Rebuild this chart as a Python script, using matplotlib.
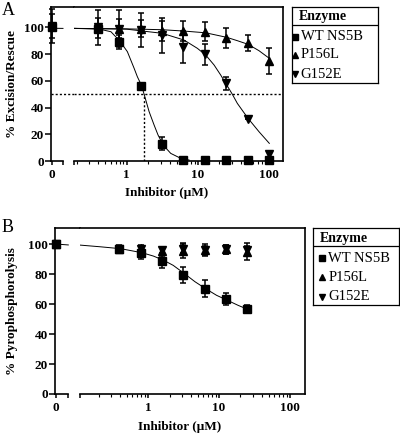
import matplotlib
matplotlib.use("Agg")
import matplotlib.pyplot as plt
from matplotlib.ticker import FixedLocator, NullFormatter, LogLocator

plt.rcParams['font.family'] = ['Liberation Serif', 'DejaVu Serif']

# ---------------- Panel A: % excision/rescue ----------------
conc_a = [0.39, 0.78, 1.5625, 3.125, 6.25, 12.5, 25, 50, 100]
wt_a0, wt_a0_err = 100, 1
wt_a = [98.7, 89, 56.3, 13, 0.7, 0.7, 0.7, 0.7, 0.7]
wt_a_err = [1.5, 5, 1, 5, 0, 0, 0, 0, 0]
p156l_a0, p156l_a0_err = 101, 9
p156l_a = [99.5, 99, 99, 97, 97, 96.7, 92.3, 88, 75]
p156l_a_err = [7.5, 7, 6.5, 7.5, 7.5, 7, 7.5, 6, 9.6]
g152e_a0, g152e_a0_err = 101, 13
g152e_a = [100, 99, 98, 94, 85, 79.8, 58, 31.4, 5]
g152e_a_err = [13, 14, 12.5, 13, 12, 8, 5, 0, 2.5]

# fitted curves
wt_fit_a_x = [0.182, 0.41, 0.6, 0.8, 1.02, 1.27, 1.41, 1.62, 1.75, 1.91, 2.06, 2.42, 2.75, 3.16, 3.64, 4.14, 5.72, 7.5]
wt_fit_a_y = [99.2, 98.7, 96.7, 89.7, 81.8, 69.3, 63, 56.3, 50, 43, 36.9, 26.9, 19.4, 13.2, 9, 5.7, 2.0, 0.7]
p156l_fit_a_x = [0.182, 0.92, 3.16, 6.35, 12.8, 25.3, 35.6, 50.3, 71.7, 100]
p156l_fit_a_y = [99.2, 98.9, 98.2, 97.2, 95.9, 92.5, 90, 87.3, 82.5, 76.8]
g152e_fit_a_x = [0.182, 1.0, 3.16, 6.35, 9.78, 12.8, 16.8, 20.8, 25.3, 30.3, 35.6, 50.3, 71.7, 100]
g152e_fit_a_y = [99.2, 98.6, 95.5, 90.5, 84.3, 79.3, 71.8, 64.3, 56.8, 49.9, 43.1, 31.9, 21.9, 13.2]
zero_fit_a = [99.3, 99.2]
half_a = 50
ic50_wt_a = 1.74

# ---------------- Panel B: % pyrophosphorolysis ----------------
conc_b = [0.39, 0.78, 1.5625, 3.125, 6.25, 12.5, 25]
wt_b0 = 100
wt_b = [96.4, 94, 88.7, 79.1, 70.2, 63.1, 56.4]
wt_b_err = [2.7, 4, 4.5, 5.3, 5.7, 4, 2.7]
p156l_b0 = 100
p156l_b = [96.5, 97.6, 95.3, 95.5, 96, 96.4, 95]
p156l_b_err = [2, 2, 3, 5, 4, 3, 5.5]
g152e_b0 = 100
g152e_b = [96.5, 97, 96, 97, 96, 96.4, 96]
g152e_b_err = [2, 2, 2, 3, 3, 3, 3]

wt_fit_b_x = [0.109, 0.208, 0.41, 0.82, 1.18, 1.63, 2.25, 3.22, 4.56, 6.38, 9.22, 12.8, 18.6, 25.5]
wt_fit_b_y = [99.3, 98.2, 96.9, 94.2, 92, 89.3, 85.8, 80.4, 74.9, 70.4, 65.8, 62.7, 59.1, 56.4]
zero_fit_b = [100, 99.4]

legend_title = "Enzyme"
legend_labels = ["WT NS5B", "P156L", "G152E"]
markers = ['s', '^', 'v']

W, H = 400, 437
fig = plt.figure(figsize=(W / 100, H / 100), dpi=100)


def rect(l, r, t, b):
    return [l / W, 1 - b / H, (r - l) / W, (b - t) / H]


def panel(l, rz, r, t, b, seg_end, ytop, xlog):
    # zero segment + log segment of the broken x axis
    ax0 = fig.add_axes(rect(l, rz, t, b))
    ax1 = fig.add_axes(rect(rz, r, t, b))
    for ax in (ax0, ax1):
        ax.set_ylim(0, ytop)
        for s in ax.spines.values():
            s.set_linewidth(1.2)
    ax0.set_xlim(-1, rz - l - 1)
    ax0.spines['right'].set_visible(False)
    ax0.spines['bottom'].set_bounds(-1, seg_end)
    ax0.set_xticks([0, seg_end])
    ax0.set_xticklabels(['0', ''])
    ax0.set_yticks([0, 20, 40, 60, 80, 100])
    ax0.tick_params(axis='y', length=4.3, width=1.1, pad=1, labelsize=9.5)
    ax0.tick_params(axis='x', length=3, width=1.1, pad=3, labelsize=9.5)
    for lab in ax0.get_xticklabels() + ax0.get_yticklabels():
        lab.set_fontweight('bold')

    ax1.set_xscale('log')
    ax1.set_xlim(*xlog)
    ax1.spines['left'].set_visible(False)
    ax1.tick_params(axis='y', left=False, labelleft=False)
    ax1.xaxis.set_major_locator(FixedLocator([xlog[0], 1, 10, 100]))
    ax1.set_xticklabels(['', '1', '10', '100'])
    ax1.xaxis.set_minor_locator(LogLocator(base=10, subs=range(2, 10)))
    ax1.xaxis.set_minor_formatter(NullFormatter())
    ax1.tick_params(axis='x', which='major', length=3, width=1.1, pad=3, labelsize=9.5)
    ax1.tick_params(axis='x', which='minor', length=2, width=0.8)
    for lab in ax1.get_xticklabels():
        lab.set_fontweight('bold')
    return ax0, ax1


eb = dict(color='k', ecolor='k', elinewidth=1.1, capsize=2.5, capthick=1.1,
          ls='none', clip_on=False, zorder=3)
fitkw = dict(color='k', lw=0.7, zorder=2)
dot = (0, (1.5, 1.5))

# ----- Panel A -----
a0, a1 = panel(51, 74, 283, 7, 161, 11, 115.2, (0.182, 155.6))
a0.plot([0, 11], zero_fit_a, **fitkw)
a1.plot(wt_fit_a_x, wt_fit_a_y, **fitkw)
a1.plot(p156l_fit_a_x, p156l_fit_a_y, **fitkw)
a1.plot(g152e_fit_a_x, g152e_fit_a_y, **fitkw)
a0.axhline(half_a, color='k', lw=1, ls=dot)
a1.axhline(half_a, color='k', lw=1, ls=dot)
a1.vlines(ic50_wt_a, 0, half_a, color='k', lw=1, ls=dot)

a0.errorbar([0], [p156l_a0], yerr=[p156l_a0_err], fmt='^', ms=6, **eb)
a0.errorbar([0], [g152e_a0], yerr=[g152e_a0_err], fmt='v', ms=6, **eb)
a0.errorbar([0], [wt_a0], yerr=[wt_a0_err], fmt='s', ms=6, **eb)
a1.errorbar(conc_a, p156l_a, yerr=p156l_a_err, fmt='^', ms=6, **eb)
a1.errorbar(conc_a, g152e_a, yerr=g152e_a_err, fmt='v', ms=6, **eb)
a1.errorbar(conc_a, wt_a, yerr=wt_a_err, fmt='s', ms=6, **eb)

# ----- Panel B -----
b0, b1 = panel(55, 80, 305, 228, 394, 12.3, 110.7, (0.109, 163))
b0.plot([0, 12.3], zero_fit_b, **fitkw)
b1.plot(wt_fit_b_x, wt_fit_b_y, **fitkw)
b0.errorbar([0], [p156l_b0], fmt='^', ms=6, **eb)
b0.errorbar([0], [g152e_b0], fmt='v', ms=6, **eb)
b0.errorbar([0], [wt_b0], fmt='s', ms=6, **eb)
b1.errorbar(conc_b, p156l_b, yerr=p156l_b_err, fmt='^', ms=6, **eb)
b1.errorbar(conc_b, g152e_b, yerr=g152e_b_err, fmt='v', ms=6, **eb)
b1.errorbar(conc_b, wt_b, yerr=wt_b_err, fmt='s', ms=6, **eb)

# axis labels and panel letters
bold = dict(fontsize=9.5, fontweight='bold', ha='center', va='center')
fig.text(167 / W, 1 - 193 / H, 'Inhibitor (\u03bcM)', **bold)
fig.text(180 / W, 1 - 427 / H, 'Inhibitor (\u03bcM)', **bold)
fig.text(12 / W, 1 - 84 / H, '% Excision/Rescue', rotation=90, **bold)
fig.text(12.5 / W, 1 - 311 / H, '% Pyrophosphorolysis', rotation=90, **bold)
fig.text(8.3 / W, 1 - 10.5 / H, 'A', fontsize=13, ha='center', va='center')
fig.text(8 / W, 1 - 227.5 / H, 'B', fontsize=13, ha='center', va='center')


# legends drawn as small boxes
def legend_box(l, r, t, b, title_x, sep_y, mark_x, text_x, ys):
    lg = fig.add_axes(rect(l, r, t, b))
    lg.set_xlim(0, r - l)
    lg.set_ylim(b - t, 0)
    lg.set_xticks([])
    lg.set_yticks([])
    for s in lg.spines.values():
        s.set_linewidth(0.9)
    lg.text(title_x, 10, legend_title, fontsize=10, fontweight='bold', va='center')
    lg.axhline(sep_y, color='k', lw=0.9)
    for m, lab, y in zip(markers, legend_labels, ys):
        lg.plot([mark_x], [y], marker=m, ms=3.8, color='k', ls='none')
        lg.text(text_x, y, lab, fontsize=10.5, va='center')


legend_box(291.7, 378, 6.7, 83.3, 7.3, 18.3, 3.6, 9, [30, 48.3, 67.3])
legend_box(313.3, 399.3, 228.3, 305, 6.7, 17.7, 8.4, 15, [30, 49, 68.4])

fig.savefig('out.png', dpi=100)
